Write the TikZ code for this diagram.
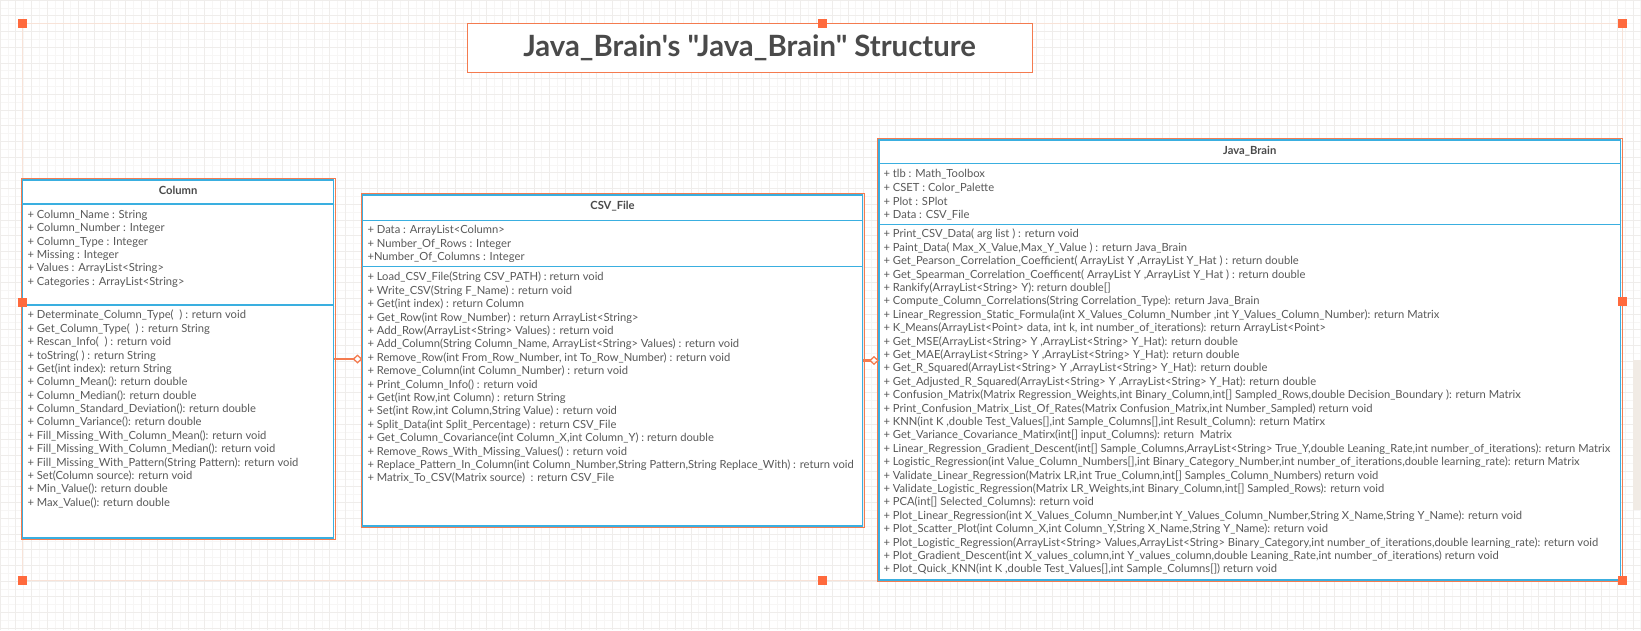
\documentclass[tikz,border=0pt]{standalone}
\usepackage{fontspec}
\setmainfont{Lato}[Ligatures=TeXOff]
\usetikzlibrary{arrows.meta}
\definecolor{umlblue}{HTML}{3AAFE0}
\definecolor{umlorange}{HTML}{F47B4F}
\definecolor{handlec}{HTML}{FF6A3D}
\definecolor{txt}{HTML}{595959}
\definecolor{titletxt}{HTML}{4A4A4A}
\definecolor{gridminor}{HTML}{F7F6F5}
\definecolor{gridmajor}{HTML}{EFEDEB}
\definecolor{selc}{HTML}{F8E3D8}
\definecolor{scrollc}{HTML}{F1EBE5}
\tikzset{
  umlbox/.style={draw=umlblue, line width=1.5pt, inner sep=0, outer sep=0, fill=white},
  mtext/.style={anchor=base west, inner sep=0, font=\fontsize{11.2}{12}\selectfont, text=txt},
  ctitle/.style={anchor=base, inner sep=0, font=\fontsize{11.2}{12}\selectfont\bfseries, text=titletxt},
  sepline/.style={draw=umlblue, line width=1.5pt},
  outline/.style={draw=umlorange, line width=1pt},
  assoc/.style={draw=umlorange, line width=2.5pt, -{Diamond[open, length=10pt, width=9pt, line width=1.3pt]}},
}
\begin{document}
\begin{tikzpicture}[x=1pt,y=-1pt]
\useasboundingbox (0,0) rectangle (1641,630);
\fill[white] (0,0) rectangle (1641,630);
\draw[gridminor, line width=0.5pt] (0,0) grid[step=7.85pt] (1641,630);
\draw[gridmajor, line width=0.6pt] (0,0) grid[step=15.7pt] (1641,630);
\fill[scrollc] (1633,360) rectangle (1641,510);
% selection frame
\draw[selc, line width=0.8pt] (22,23) rectangle (1622,580);
% title
\node[draw=umlorange, line width=1pt, fill=white, minimum width=565pt, minimum height=49pt, inner sep=0, font=\fontsize{29.3}{32}\selectfont\bfseries, text=titletxt] (title) at (749.5,47.5) {Java\_Brain's "Java\_Brain" Structure};
% boxes
\node[umlbox, minimum width=310.8pt, minimum height=358pt] (col) at (178.1,359) {};
\node[umlbox, minimum width=500pt, minimum height=331pt] (csv) at (612.5,360.5) {};
\node[umlbox, minimum width=741.5pt, minimum height=440pt] (jb) at (1249.75,360) {};
\foreach \b in {col,csv,jb}
  \draw[outline] ([shift={(-1.5,-1.5)}]\b.north west) rectangle ([shift={(1.5,1.5)}]\b.south east);
% separators
\draw[sepline] (col.west |- 0,204) -- (col.east |- 0,204);
\draw[sepline] (col.west |- 0,305) -- (col.east |- 0,305);
\draw[sepline] (csv.west |- 0,220.7) -- (csv.east |- 0,220.7);
\draw[sepline] (csv.west |- 0,266.7) -- (csv.east |- 0,266.7);
\draw[sepline] (jb.west |- 0,163.5) -- (jb.east |- 0,163.5);
\draw[sepline] (jb.west |- 0,224.3) -- (jb.east |- 0,224.3);
% class names
\node[ctitle] (colname) at (178.1,194) {Column};
\node[ctitle] (csvname) at (612.5,209.7) {CSV\_File};
\node[ctitle] (jbname) at (1249.75,154) {Java\_Brain};
% Column
\foreach \t [count=\i from 0] in {
 {+ Column\_Name : String},
 {+ Column\_Number : Integer},
 {+ Column\_Type : Integer},
 {+ Missing : Integer},
 {+ Values : ArrayList<String>},
 {+ Categories : ArrayList<String>}}
 \node[mtext] at (27.3,{218.2+13.4*\i}) {\t};
\foreach \t [count=\i from 0] in {
 {+ Determinate\_Column\_Type(\ \ ) : return void},
 {+ Get\_Column\_Type(\ \ ) : return String},
 {+ Rescan\_Info(\ \ ) : return void},
 {+ toString( ) : return String},
 {+ Get(int index): return String},
 {+ Column\_Mean(): return double},
 {+ Column\_Median(): return double},
 {+ Column\_Standard\_Deviation(): return double},
 {+ Column\_Variance(): return double},
 {+ Fill\_Missing\_With\_Column\_Mean(): return void},
 {+ Fill\_Missing\_With\_Column\_Median(): return void},
 {+ Fill\_Missing\_With\_Pattern(String Pattern): return void},
 {+ Set(Column source): return void},
 {+ Min\_Value(): return double},
 {+ Max\_Value(): return double}}
 \node[mtext] at (27.3,{318.9+13.38*\i}) {\t};
% CSV_File
\foreach \t [count=\i from 0] in {
 {+ Data : ArrayList<Column>},
 {+ Number\_Of\_Rows : Integer},
 {+Number\_Of\_Columns : Integer}}
 \node[mtext] at (367.3,{233.9+13.5*\i}) {\t};
\foreach \t [count=\i from 0] in {
 {+ Load\_CSV\_File(String CSV\_PATH) : return void},
 {+ Write\_CSV(String F\_Name) : return void},
 {+ Get(int index) : return Column},
 {+ Get\_Row(int Row\_Number) : return ArrayList<String>},
 {+ Add\_Row(ArrayList<String> Values) : return void},
 {+ Add\_Column(String Column\_Name, ArrayList<String> Values) : return void},
 {+ Remove\_Row(int From\_Row\_Number, int To\_Row\_Number) : return void},
 {+ Remove\_Column(int Column\_Number) : return void},
 {+ Print\_Column\_Info() : return void},
 {+ Get(int Row,int Column) : return String},
 {+ Set(int Row,int Column,String Value) : return void},
 {+ Split\_Data(int Split\_Percentage) : return CSV\_File},
 {+ Get\_Column\_Covariance(int Column\_X,int Column\_Y) : return double},
 {+ Remove\_Rows\_With\_Missing\_Values() : return void},
 {+ Replace\_Pattern\_In\_Column(int Column\_Number,String Pattern,String Replace\_With) : return void},
 {+ Matrix\_To\_CSV(Matrix source)\ \ : return CSV\_File}}
 \node[mtext] at (367.3,{280.9+13.4*\i}) {\t};
% Java_Brain
\foreach \t [count=\i from 0] in {
 {+ tlb : Math\_Toolbox},
 {+ CSET : Color\_Palette},
 {+ Plot : SPlot},
 {+ Data : CSV\_File}}
 \node[mtext] at (883.3,{177.9+13.67*\i}) {\t};
\foreach \t [count=\i from 0] in {
 {+ Print\_CSV\_Data( arg list ) : return void},
 {+ Paint\_Data( Max\_X\_Value,Max\_Y\_Value ) : return Java\_Brain},
 {+ Get\_Pearson\_Correlation\_Coefficient( ArrayList Y ,ArrayList Y\_Hat ) : return double},
 {+ Get\_Spearman\_Correlation\_Coefficent( ArrayList Y ,ArrayList Y\_Hat ) : return double},
 {+ Rankify(ArrayList<String> Y): return double[]},
 {+ Compute\_Column\_Correlations(String Correlation\_Type): return Java\_Brain},
 {+ Linear\_Regression\_Static\_Formula(int X\_Values\_Column\_Number ,int Y\_Values\_Column\_Number): return Matrix},
 {+ K\_Means(ArrayList<Point> data, int k, int number\_of\_iterations): return ArrayList<Point>},
 {+ Get\_MSE(ArrayList<String> Y ,ArrayList<String> Y\_Hat): return double},
 {+ Get\_MAE(ArrayList<String> Y ,ArrayList<String> Y\_Hat): return double},
 {+ Get\_R\_Squared(ArrayList<String> Y ,ArrayList<String> Y\_Hat): return double},
 {+ Get\_Adjusted\_R\_Squared(ArrayList<String> Y ,ArrayList<String> Y\_Hat): return double},
 {+ Confusion\_Matrix(Matrix Regression\_Weights,int Binary\_Column,int[] Sampled\_Rows,double Decision\_Boundary ): return Matrix},
 {+ Print\_Confusion\_Matrix\_List\_Of\_Rates(Matrix Confusion\_Matrix,int Number\_Sampled) return void},
 {+ KNN(int K ,double Test\_Values[],int Sample\_Columns[],int Result\_Column): return Matirx},
 {+ Get\_Variance\_Covariance\_Matirx(int[] input\_Columns): return\ \ Matrix},
 {+ Linear\_Regression\_Gradient\_Descent(int[] Sample\_Columns,ArrayList<String> True\_Y,double Leaning\_Rate,int number\_of\_iterations): return Matrix},
 {+ Logistic\_Regression(int Value\_Column\_Numbers[],int Binary\_Category\_Number,int number\_of\_iterations,double learning\_rate): return Matrix},
 {+ Validate\_Linear\_Regression(Matrix LR,int True\_Column,int[] Samples\_Column\_Numbers) return void},
 {+ Validate\_Logistic\_Regression(Matrix LR\_Weights,int Binary\_Column,int[] Sampled\_Rows): return void},
 {+ PCA(int[] Selected\_Columns): return void},
 {+ Plot\_Linear\_Regression(int X\_Values\_Column\_Number,int Y\_Values\_Column\_Number,String X\_Name,String Y\_Name): return void},
 {+ Plot\_Scatter\_Plot(int Column\_X,int Column\_Y,String X\_Name,String Y\_Name): return void},
 {+ Plot\_Logistic\_Regression(ArrayList<String> Values,ArrayList<String> Binary\_Category,int number\_of\_iterations,double learning\_rate): return void},
 {+ Plot\_Gradient\_Descent(int X\_values\_column,int Y\_values\_column,double Leaning\_Rate,int number\_of\_iterations) return void},
 {+ Plot\_Quick\_KNN(int K ,double Test\_Values[],int Sample\_Columns[]) return void}}
 \node[mtext] at (883.3,{237.9+13.4*\i}) {\t};
% connectors
\draw[assoc] (col.east) -- (col.east -| csv.west);
\draw[assoc] (csv.east) -- (csv.east -| jb.west);
% handles
\foreach \p in {(22,23),(822,23),(1622,23),(22,302),(1622,301),(22,580),(822,580),(1622,580)}
  \fill[handlec] \p +(-4.5,-4.5) rectangle +(4.5,4.5);
\end{tikzpicture}
\end{document}
